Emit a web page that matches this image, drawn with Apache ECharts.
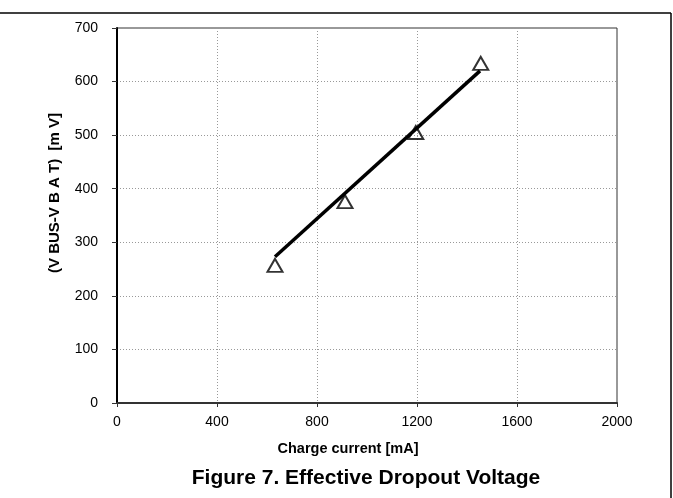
<!DOCTYPE html>
<html>
<head>
<meta charset="utf-8">
<script src="https://cdn.jsdelivr.net/npm/echarts@6/dist/echarts.min.js"></script>
<style>
html,body{margin:0;padding:0;background:#fff;}
#chart{width:673px;height:498px;}
</style>
</head>
<body>
<div id="chart"></div>
<script>
// Measured points (charge current [mA], VBUS-VBAT [mV])
var currents = [632, 912, 1195, 1455];
var dropout = [257, 376, 505, 634];
// Linear trend line end points
var fitCurrents = [632, 1452];
var fitDropout = [273, 620];
// Axis ticks
var xTicks = [0, 400, 800, 1200, 1600, 2000];
var yTicks = [0, 100, 200, 300, 400, 500, 600, 700];

var chart = echarts.init(document.getElementById('chart'), null, {renderer: 'canvas'});

var pts = currents.map(function (c, i) { return [c, dropout[i]]; });
var fit = fitCurrents.map(function (c, i) { return [c, fitDropout[i]]; });

var font = '"Liberation Sans", Arial, sans-serif';

chart.setOption({
  animation: false,
  backgroundColor: '#fff',
  grid: {
    left: 117, right: 56, top: 28, bottom: 95,
    show: true, borderColor: '#333', borderWidth: 1
  },
  xAxis: {
    type: 'value',
    min: xTicks[0], max: xTicks[xTicks.length - 1], interval: 400,
    axisLine: {show: true, onZero: false, lineStyle: {color: '#333', width: 2}},
    axisTick: {show: true, inside: false, length: 4, lineStyle: {color: '#333'}},
    axisLabel: {color: '#000', fontSize: 14, fontFamily: font, margin: 12,
                formatter: function (v) { return String(v); }},
    splitLine: {show: true, lineStyle: {color: '#999', type: [1, 2], width: 1}}
  },
  yAxis: {
    type: 'value',
    min: yTicks[0], max: yTicks[yTicks.length - 1], interval: 100,
    axisLine: {show: true, onZero: false, lineStyle: {color: '#000', width: 2}},
    axisTick: {show: true, inside: false, length: 5, lineStyle: {color: '#333'}},
    axisLabel: {color: '#000', fontSize: 14, fontFamily: font, margin: 19,
                formatter: function (v) { return String(v); }},
    splitLine: {show: true, lineStyle: {color: '#999', type: [1, 2], width: 1}}
  },
  graphic: [
    {type: 'line', shape: {x1: 0, y1: 13, x2: 671, y2: 13}, style: {stroke: '#000', lineWidth: 1.5}},
    {type: 'line', shape: {x1: 671, y1: 13, x2: 671, y2: 498}, style: {stroke: '#000', lineWidth: 1.5}},
    {type: 'text', x: 55, y: 193, rotation: Math.PI / 2,
     style: {text: '(V BUS-V B A T)  [m V]', fill: '#000', font: 'bold 15px ' + font,
             textAlign: 'center', textVerticalAlign: 'middle'}},
    {type: 'text', x: 348, y: 449,
     style: {text: 'Charge current [mA]', fill: '#000', font: 'bold 14.5px ' + font,
             textAlign: 'center', textVerticalAlign: 'middle'}},
    {type: 'text', x: 366, y: 478,
     style: {text: 'Figure 7. Effective Dropout Voltage', fill: '#000', font: 'bold 21px ' + font,
             textAlign: 'center', textVerticalAlign: 'middle'}}
  ],
  series: [
    {
      type: 'line',
      data: fit,
      showSymbol: false,
      symbol: 'none',
      lineStyle: {color: '#000', width: 3.5},
      z: 3
    },
    {
      type: 'scatter',
      data: pts,
      symbol: 'triangle',
      symbolSize: [15, 13],
      itemStyle: {color: 'rgba(255,255,255,0)', borderColor: '#000', borderWidth: 2},
      z: 4
    }
  ]
});
</script>
</body>
</html>
